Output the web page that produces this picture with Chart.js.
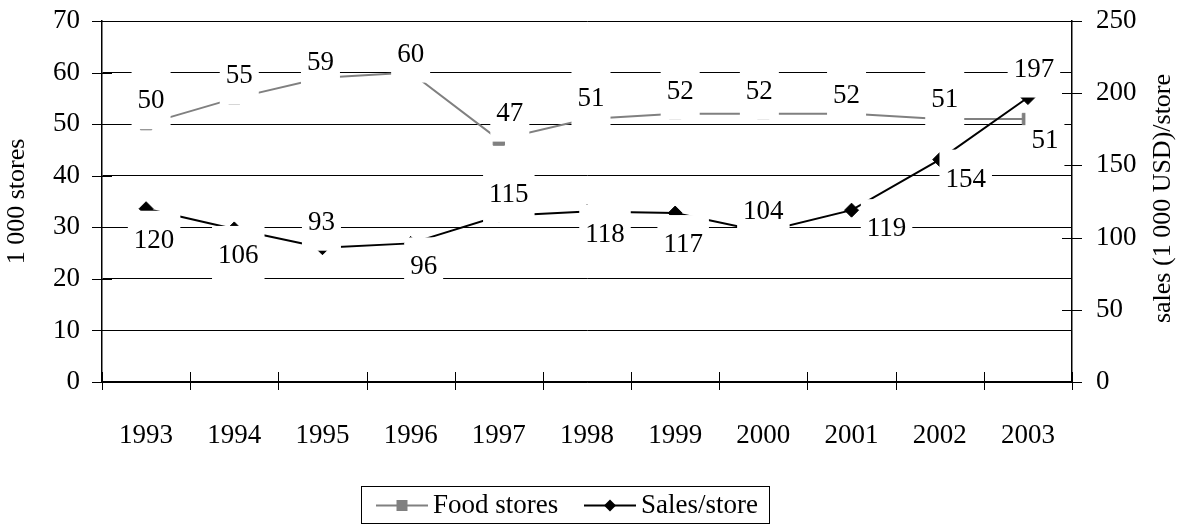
<!DOCTYPE html>
<html>
<head>
<meta charset="utf-8">
<style>
  html, body { margin: 0; padding: 0; background: #ffffff; }
  #wrap { width: 1182px; height: 525px; }
</style>
<script src="https://cdn.jsdelivr.net/npm/chart.js@4/dist/chart.umd.min.js"></script>
</head>
<body>
<div id="wrap"><canvas id="c" width="1182" height="525"></canvas></div>
<script>
// ---- data ----
const years = ['1993', '1994', '1995', '1996', '1997', '1998', '1999', '2000', '2001', '2002', '2003'];
const foodStores = [50, 55, 59, 60, 47, 51, 52, 52, 52, 51, 51];          // 1 000 stores
const salesPerStore = [120, 106, 93, 96, 115, 118, 117, 104, 119, 154, 197]; // 1 000 USD per store
const storeTicks = [0, 10, 20, 30, 40, 50, 60, 70];
const salesTicks = [0, 50, 100, 150, 200, 250];
const leftTitle = '1 000 stores';
const rightTitle = 'sales (1 000 USD)/store';

// ---- label placement (pixel shift of each value label from its point) ----
const foodLabelShift = [[5, -24], [5, -23], [-2, -16], [0, -19], [11, -27], [4, -21], [5, -23], [-4, -23], [-5, -19], [5, -20], [17, 21]];
const salesLabelShift = [[8, 31], [4, 26], [-1, -26], [13, 23], [10, -22], [18, 22], [8, 31], [0, -21], [35, 18], [26, 19], [6, -29]];

const FONT = '"Liberation Serif", "Times New Roman", serif';
const FOOD_COLOR = '#808080';
const SALES_COLOR = '#000000';

// Cross-shaped tick marks on all three axes
const crossTicks = {
  id: 'crossTicks',
  beforeDatasetsDraw(chart) {
    const { ctx, chartArea: a, scales } = chart;
    ctx.save();
    ctx.strokeStyle = '#000';
    ctx.lineWidth = 1;
    ctx.beginPath();
    scales.y.ticks.forEach(t => {
      const y = Math.round(scales.y.getPixelForValue(t.value)) + 0.5;
      ctx.moveTo(a.left - 10, y); ctx.lineTo(a.left + 10, y);
    });
    scales.y1.ticks.forEach(t => {
      const y = Math.round(scales.y1.getPixelForValue(t.value)) + 0.5;
      ctx.moveTo(a.right - 10, y); ctx.lineTo(a.right + 10, y);
    });
    const n = scales.x.ticks.length;
    const step = (a.right - a.left) / n;
    for (let k = 0; k <= n; k++) {
      const x = Math.round(a.left + k * step) + 0.5;
      ctx.moveTo(x, a.bottom - 10); ctx.lineTo(x, a.bottom + 8);
    }
    ctx.stroke();
    ctx.restore();
  }
};

// Value labels on white boxes, placed over the lines
const valueLabels = {
  id: 'valueLabels',
  afterDatasetsDraw(chart) {
    const { ctx } = chart;
    const shifts = [foodLabelShift, salesLabelShift];
    ctx.save();
    ctx.font = '27px ' + FONT;
    ctx.textAlign = 'center';
    ctx.textBaseline = 'middle';
    chart.data.datasets.forEach((ds, di) => {
      const meta = chart.getDatasetMeta(di);
      meta.data.forEach((pt, i) => {
        const txt = String(ds.data[i]);
        const [dx, dy] = shifts[di][i];
        const cx = pt.x + dx, cy = pt.y + dy;
        const w = ctx.measureText(txt).width + 12;
        const h = 58;
        ctx.fillStyle = '#ffffff';
        ctx.fillRect(cx - w / 2, cy - h / 2, w, h);
        ctx.fillStyle = '#000000';
        ctx.fillText(txt, cx, cy + 1);
      });
    });
    ctx.restore();
  }
};

// Right-hand axis title, reading bottom to top
const rightAxisTitle = {
  id: 'rightAxisTitle',
  afterDraw(chart) {
    const { ctx, chartArea: a } = chart;
    ctx.save();
    ctx.translate(1163, (a.top + a.bottom) / 2 - 3);
    ctx.rotate(-Math.PI / 2);
    ctx.font = '26px ' + FONT;
    ctx.fillStyle = '#000';
    ctx.textAlign = 'center';
    ctx.textBaseline = 'middle';
    ctx.fillText(rightTitle, 0, 0);
    ctx.restore();
  }
};

// Framed legend below the plot
const boxLegend = {
  id: 'boxLegend',
  afterDraw(chart) {
    const { ctx } = chart;
    const box = { x: 361, y: 486, w: 408, h: 37 };
    ctx.save();
    ctx.strokeStyle = '#000';
    ctx.lineWidth = 1;
    ctx.strokeRect(box.x + 0.5, box.y + 0.5, box.w, box.h);
    const items = [{ x: 376 }, { x: 584 }];
    const cy = box.y + box.h / 2 + 1;
    ctx.font = '27px ' + FONT;
    ctx.textBaseline = 'middle';
    ctx.textAlign = 'left';
    chart.data.datasets.forEach((ds, i) => {
      const x0 = items[i].x;
      ctx.strokeStyle = ds.borderColor;
      ctx.lineWidth = ds.borderWidth;
      ctx.beginPath();
      ctx.moveTo(x0, cy); ctx.lineTo(x0 + 52, cy);
      ctx.stroke();
      ctx.fillStyle = ds.pointBackgroundColor;
      ctx.beginPath();
      const mx = x0 + 26;
      if (ds.pointStyle === 'rect') {
        ctx.rect(mx - 5.5, cy - 5.5, 11, 11);
      } else {
        ctx.moveTo(mx, cy - 6); ctx.lineTo(mx + 6, cy); ctx.lineTo(mx, cy + 6); ctx.lineTo(mx - 6, cy); ctx.closePath();
      }
      ctx.fill();
      ctx.fillStyle = '#000';
      ctx.fillText(ds.label, x0 + 57, cy);
    });
    ctx.restore();
  }
};

new Chart(document.getElementById('c'), {
  type: 'line',
  data: {
    labels: years,
    datasets: [
      {
        label: 'Food stores',
        data: foodStores,
        yAxisID: 'y',
        order: 1,
        borderColor: FOOD_COLOR,
        borderWidth: 2,
        pointStyle: 'rect',
        pointRadius: 8,
        pointBackgroundColor: FOOD_COLOR,
        pointBorderColor: FOOD_COLOR,
        pointBorderWidth: 1,
        tension: 0
      },
      {
        label: 'Sales/store',
        data: salesPerStore,
        yAxisID: 'y1',
        order: 0,
        borderColor: SALES_COLOR,
        borderWidth: 2,
        pointStyle: 'rectRot',
        pointRadius: 7,
        pointBackgroundColor: SALES_COLOR,
        pointBorderColor: SALES_COLOR,
        pointBorderWidth: 1,
        tension: 0
      }
    ]
  },
  options: {
    responsive: false,
    animation: false,
    devicePixelRatio: 1,
    layout: { padding: { top: 21, left: 0, right: 0, bottom: 0 } },
    plugins: {
      legend: { display: false },
      tooltip: { enabled: false }
    },
    scales: {
      x: {
        type: 'category',
        offset: true,
        grid: { display: false, drawTicks: false },
        border: { display: true, color: '#000', width: 1.5 },
        ticks: { color: '#000', font: { family: FONT, size: 27 }, padding: 38, maxRotation: 0, autoSkip: false },
        afterFit(s) { s.height = 143; s.paddingLeft = 0; s.paddingRight = 0; }
      },
      y: {
        position: 'left',
        min: storeTicks[0],
        max: storeTicks[storeTicks.length - 1],
        afterBuildTicks(s) { s.ticks = storeTicks.map(v => ({ value: v })); },
        grid: { color: '#000', lineWidth: 1, drawTicks: false },
        border: { display: true, color: '#000', width: 1.5 },
        ticks: { color: '#000', font: { family: FONT, size: 27 }, padding: 22 },
        title: { display: true, text: leftTitle, color: '#000', font: { family: FONT, size: 26 }, padding: { top: 2, bottom: 0 } },
        afterFit(s) { s.width = 102; s.paddingTop = 0; s.paddingBottom = 0; }
      },
      y1: {
        position: 'right',
        min: salesTicks[0],
        max: salesTicks[salesTicks.length - 1],
        afterBuildTicks(s) { s.ticks = salesTicks.map(v => ({ value: v })); },
        grid: { drawOnChartArea: false, drawTicks: false },
        border: { display: true, color: '#000', width: 1.5 },
        ticks: { color: '#000', font: { family: FONT, size: 27 }, padding: 24 },
        afterFit(s) { s.width = 110; s.paddingTop = 0; s.paddingBottom = 0; }
      }
    }
  },
  plugins: [crossTicks, valueLabels, rightAxisTitle, boxLegend]
});
</script>
</body>
</html>
